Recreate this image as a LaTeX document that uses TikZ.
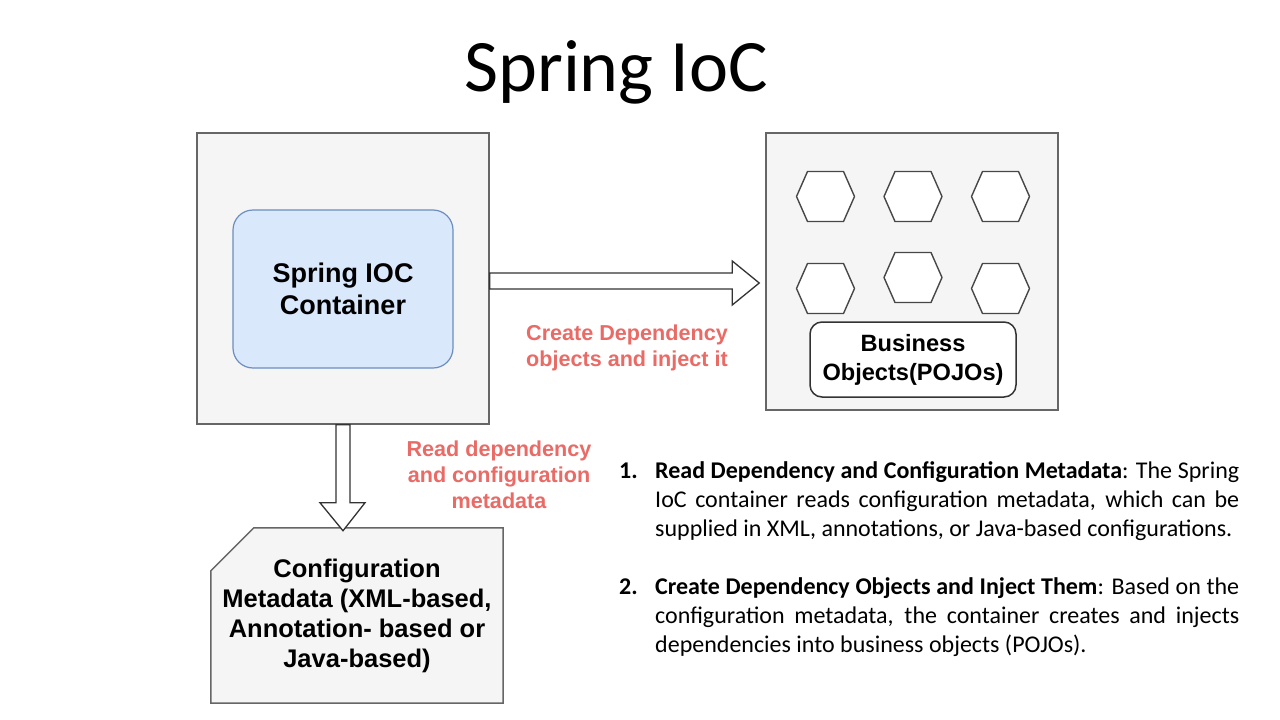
\documentclass[tikz,border=0pt]{standalone}
\usepackage{fontspec}
\setmainfont{Carlito}
\newfontfamily\arialf{Liberation Sans}
\usetikzlibrary{calc,backgrounds}
\definecolor{boxfill}{HTML}{F5F5F5}
\definecolor{boxline}{HTML}{666666}
\definecolor{bluefill}{HTML}{DAE8FC}
\definecolor{blueline}{HTML}{6C8EBF}
\definecolor{redtext}{HTML}{EA6B66}
\definecolor{darkline}{HTML}{333333}
\newcommand\hexat[1]{\draw[hexline] (#1) ++(-29,0) -- ++(11,-25) -- ++(36,0) -- ++(11,25) -- ++(-11,25) -- ++(-36,0) -- cycle;}
\begin{document}
\begin{tikzpicture}[x=1pt,y=-1pt,
  outerbox/.style={draw=boxline,fill=boxfill,line width=1.5pt,inner sep=0},
  innerbox/.style={draw=blueline,fill=bluefill,line width=1.2pt,rounded corners=20pt,inner sep=0,
    align=center,font=\arialf\bfseries\fontsize{27}{32}\selectfont},
  pojobox/.style={draw=darkline,fill=white,line width=1.5pt,rounded corners=12pt,inner sep=0,
    align=center,font=\arialf\bfseries\fontsize{23.6}{29}\selectfont},
  cfgtext/.style={inner sep=0,align=center,font=\arialf\bfseries\fontsize{25.5}{30}\selectfont},
  redlbl/.style={inner sep=0,align=center,text=redtext,font=\arialf\bfseries\fontsize{21.6}{26}\selectfont},
  hexline/.style={draw=darkline!90,fill=white,line width=1.4pt,line join=round},
  blockarrow/.style={draw=darkline,fill=white,line width=1.3pt,line join=miter},
  listnum/.style={inner sep=0,anchor=base west,font=\bfseries\fontsize{24}{29}\selectfont},
  listtext/.style={inner sep=0,anchor=base west,text width=584pt,align=justify,
    font=\fontsize{24}{29}\selectfont}
]
\begin{pgfonlayer}{background}
\fill[white] (0,0) rectangle (1280,720);
\end{pgfonlayer}
\useasboundingbox (0,0) rectangle (1280,720);

% title
\node[inner sep=0,anchor=base,font=\fontsize{74}{80}\selectfont] (title) at (616,91) {Spring IoC};

% left container
\node[outerbox,minimum width=292pt,minimum height=291pt] (ioc) at (343,278.5) {};
\node[innerbox,minimum width=220pt,minimum height=158pt] (iocc) at (343,289) {Spring IOC\\Container};

% right business objects box
\node[outerbox,minimum width=292pt,minimum height=277pt] (biz) at (912,271.5) {};
\coordinate (h1) at (825.5,196.5);
\coordinate (h2) at (913,196.5);
\coordinate (h3) at (1000.5,196.5);
\coordinate (h4) at (825.5,288.5);
\coordinate (h5) at (913,277.5);
\coordinate (h6) at (1000.5,288.5);
\hexat{h1}\hexat{h2}\hexat{h3}\hexat{h4}\hexat{h5}\hexat{h6}
\node[pojobox,minimum width=206pt,minimum height=75pt] (pojo) at (913,359.5) {Business\\Objects(POJOs)};

% configuration metadata card
\node[cfgtext,minimum width=292pt,minimum height=175pt] (cfg) at (357,615.5)
  {Configuration\\Metadata (XML-based,\\Annotation- based or\\Java-based)};
\begin{pgfonlayer}{background}
\draw[outerbox] (cfg.south west) -- ($(cfg.north west)+(0,43)$) -- ($(cfg.north west)+(43,0)$)
  -- (cfg.north east) -- (cfg.south east) -- cycle;
\end{pgfonlayer}

% block arrow right
\draw[blockarrow] ($(ioc.east)+(0,-5.5)$) -- ($(biz.west)+(-33,1.5)$) -- ($(biz.west)+(-33,-10.5)$)
  -- ($(biz.west)+(-6,11.5)$) -- ($(biz.west)+(-33,33.5)$) -- ($(biz.west)+(-33,17.5)$)
  -- ($(ioc.east)+(0,10.5)$) -- cycle;

% block arrow down
\draw[blockarrow] ($(ioc.south)+(-7,0)$) -- ($(ioc.south)+(-7,78)$) -- ($(ioc.south)+(-23,78)$)
  -- ($(ioc.south)+(0,106)$) -- ($(ioc.south)+(22,78)$) -- ($(ioc.south)+(7,78)$)
  -- ($(ioc.south)+(7,0)$) -- cycle;

% red labels
\node[redlbl] (lblc) at (627,348) {Create Dependency\\objects and inject it};
\node[redlbl] (lblr) at (499,475) {Read dependency\\and configuration\\metadata};

% explanatory list
\node[listnum] (num1) at (619,478) {1.};
\node[listtext] (item1) at (655,478) {\textbf{Read Dependency and Configuration Metadata}: The Spring\linebreak IoC container reads configuration metadata, which can be\linebreak supplied in XML, annotations, or Java-based configurations.};
\node[listnum] (num2) at (619,594) {2.};
\node[listtext] (item2) at (655,594) {\textbf{Create Dependency Objects and Inject Them}: Based on the\linebreak configuration metadata, the container creates and injects\linebreak dependencies into business objects (POJOs).};
\end{tikzpicture}
\end{document}
